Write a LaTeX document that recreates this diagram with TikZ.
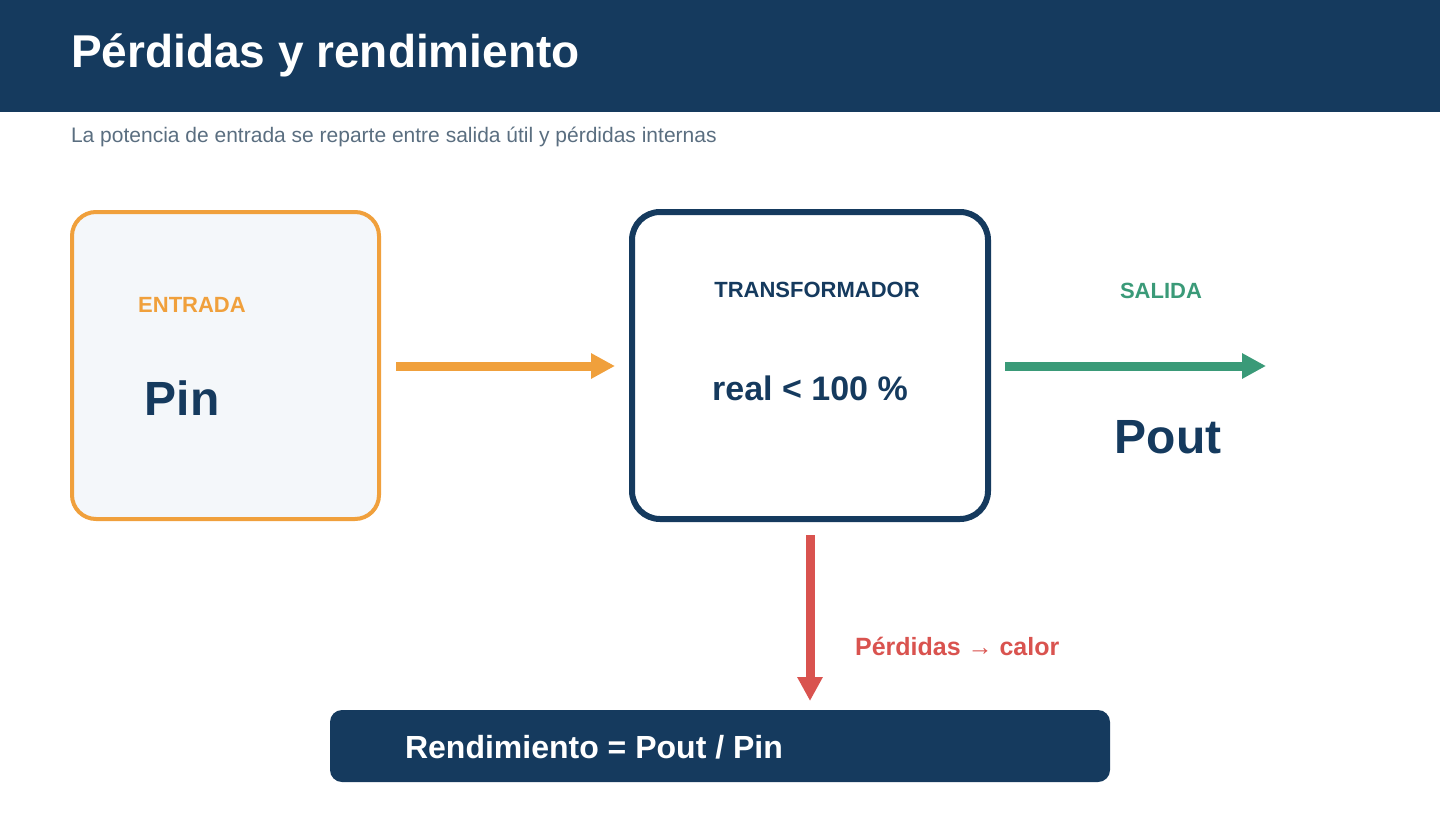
\documentclass[tikz,border=0pt]{standalone}
\usepackage{fontspec}
\setmainfont{Liberation Sans}
\usetikzlibrary{arrows.meta, positioning}
\definecolor{navy}{RGB}{21,58,94}
\definecolor{orangeline}{RGB}{240,160,60}
\definecolor{greenline}{RGB}{58,154,120}
\definecolor{redline}{RGB}{217,83,79}
\definecolor{subgray}{RGB}{90,110,128}
\definecolor{boxfill}{RGB}{244,247,250}

\begin{document}
\begin{tikzpicture}[x=0.5pt, y=-0.5pt, font=\bfseries]
      % Styles
      \tikzset{flow/.style={line width=4.5pt, -{Triangle[length=12pt, width=12pt]}}}
      \tikzset{tag/.style={font=\fontsize{11}{13}\selectfont\bfseries}}
      \tikzset{big/.style={font=\fontsize{24}{28}\selectfont\bfseries, text=navy}}

      \useasboundingbox (0,0) rectangle (1440,840);

      % --- Header ---
      \fill[navy] (0,0) rectangle (1440,112);
      \node[anchor=west, text=white, font=\fontsize{23}{27}\selectfont\bfseries] (title) at (64,55) {Pérdidas y rendimiento};
      \node[anchor=west, text=subgray, font=\fontsize{10.5}{12}\selectfont] (sub) at (64,137) {La potencia de entrada se reparte entre salida útil y pérdidas internas};

      % --- Boxes ---
      \draw[orangeline, line width=2pt, fill=boxfill, rounded corners=12pt] (72,212) rectangle (379,519);
      \node[tag, text=orangeline] (entrada) at (192,305) {ENTRADA};
      \node[big] (pin) at (182,398) {Pin};

      \draw[navy, line width=3pt, rounded corners=14pt] (632,212) rectangle (988,519);
      \node[tag, text=navy] (trafo) at (817,290) {TRANSFORMADOR};
      \node[text=navy, font=\fontsize{17}{20}\selectfont\bfseries] (real) at (810,388) {real < 100 \%};

      \node[tag, text=greenline] (salida) at (1161,291) {SALIDA};
      \node[big] (pout) at (1168,437) {Pout};

      % --- Arrows ---
      \coordinate (inA) at (396,366);   \coordinate (inB) at (615,366);
      \coordinate (outA) at (1005,366); \coordinate (outB) at (1266,366);
      \coordinate (lossA) at (810,535); \coordinate (lossB) at (810,701);
      \draw[flow, orangeline] (inA) -- (inB);
      \draw[flow, greenline] (outA) -- (outB);
      \draw[flow, redline] (lossA) -- (lossB);
      \node[anchor=west, text=redline, font=\fontsize{12.5}{15}\selectfont\bfseries] (calor) at (848,646) {Pérdidas → calor};

      % --- Result ---
      \fill[navy, rounded corners=6pt] (330,710) rectangle (1110,782);
      \node[anchor=west, text=white, font=\fontsize{16}{19}\selectfont\bfseries] (rend) at (398,747) {Rendimiento = Pout / Pin};
\end{tikzpicture}
\end{document}
